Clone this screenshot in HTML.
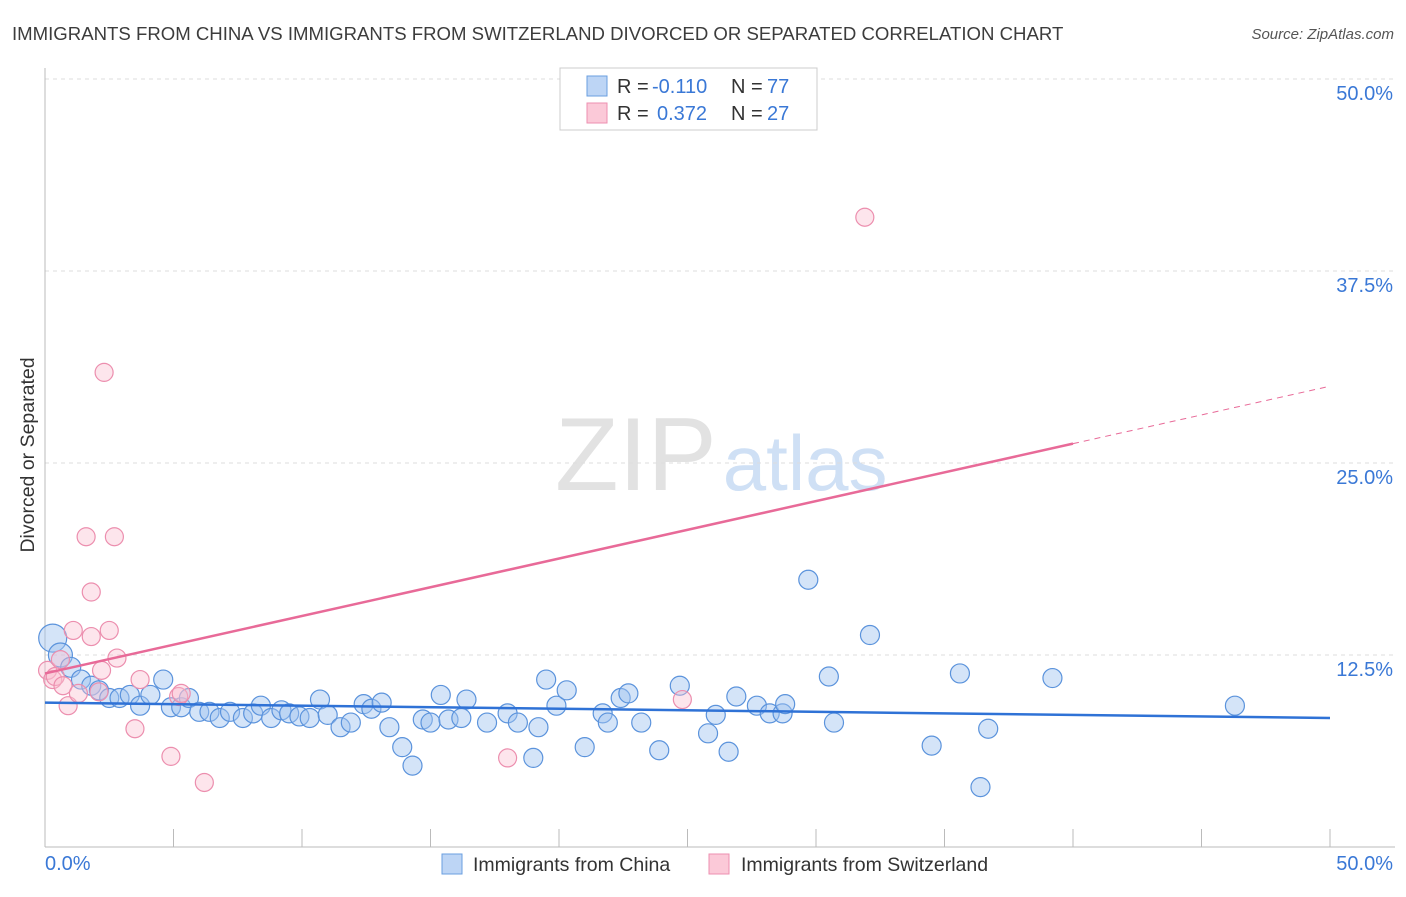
<!DOCTYPE html>
<html><head><meta charset="utf-8"><style>
body{margin:0;background:#fff;font-family:"Liberation Sans",sans-serif;}
svg text{font-family:"Liberation Sans",sans-serif;}
</style></head><body>
<svg id="chart" width="1406" height="892" xmlns="http://www.w3.org/2000/svg">
<text x="12" y="40" font-size="18.6" fill="#3c3c3c">IMMIGRANTS FROM CHINA VS IMMIGRANTS FROM SWITZERLAND DIVORCED OR SEPARATED CORRELATION CHART</text>
<text x="1394" y="39" font-size="15" fill="#555" text-anchor="end" font-style="italic">Source: ZipAtlas.com</text>
<text x="555" y="490" font-size="104" fill="#e2e2e2" font-family="Liberation Serif">ZIP<tspan fill="#cfe0f5" font-family="Liberation Sans" font-size="78" dx="6">atlas</tspan></text>
<text transform="translate(34,455) rotate(-90)" font-size="19.5" fill="#333" text-anchor="middle">Divorced or Separated</text>
<g id="grid"></g><g id="axes"></g><g id="pts"></g><g id="lines"></g>
<g>
<rect x="560" y="68" width="257" height="62" fill="#fff" stroke="#ccc"/>
<rect x="587" y="76" width="20" height="20" fill="#bdd5f5" stroke="#6a9fe0"/>
<rect x="587" y="103" width="20" height="20" fill="#fbc9d8" stroke="#ee8fb0"/>
<text x="617" y="93" font-size="20" fill="#333">R =</text>
<text x="652" y="93" font-size="20" fill="#3a78d6">-0.110</text>
<text x="731" y="93" font-size="20" fill="#333">N =</text>
<text x="767" y="93" font-size="20" fill="#3a78d6">77</text>
<text x="617" y="120" font-size="20" fill="#333">R =</text>
<text x="657" y="120" font-size="20" fill="#3a78d6">0.372</text>
<text x="731" y="120" font-size="20" fill="#333">N =</text>
<text x="767" y="120" font-size="20" fill="#3a78d6">27</text>
</g>
<g>
<rect x="442" y="854" width="20" height="20" fill="#bdd5f5" stroke="#6a9fe0"/>
<text x="473" y="871" font-size="19.5" fill="#333">Immigrants from China</text>
<rect x="709" y="854" width="20" height="20" fill="#fbc9d8" stroke="#ee8fb0"/>
<text x="741" y="871" font-size="19.5" fill="#333">Immigrants from Switzerland</text>
</g>
</svg>
<script>
const yTicks=[12.5,25,37.5,50];
const yTickLabels=["12.5%","25.0%","37.5%","50.0%"];
const xTickVals=[0,5,10,15,20,25,30,35,40,45,50];
const chinaX=[0.3,0.6,1.0,1.4,1.8,2.1,2.5,2.9,3.3,3.7,4.1,4.6,4.9,5.3,5.6,6.0,6.4,6.8,7.2,7.7,8.1,8.4,8.8,9.2,9.5,9.9,10.3,10.7,11.0,11.5,11.9,12.4,12.7,13.1,13.4,13.9,14.3,14.7,15.0,15.4,15.7,16.2,16.4,17.2,18.0,18.4,19.0,19.2,19.5,19.9,20.3,21.0,21.7,21.9,22.4,22.7,23.2,23.9,24.7,25.8,26.1,26.6,26.9,27.7,28.2,28.7,28.8,29.7,30.5,30.7,32.1,34.5,35.6,36.4,36.7,39.2,46.3];
const chinaY=[13.6,12.5,11.7,10.9,10.5,10.2,9.7,9.7,9.9,9.2,9.9,10.9,9.1,9.1,9.7,8.8,8.8,8.4,8.8,8.4,8.7,9.2,8.4,8.9,8.7,8.5,8.4,9.6,8.6,7.8,8.1,9.3,9.0,9.4,7.8,6.5,5.3,8.3,8.1,9.9,8.3,8.4,9.6,8.1,8.7,8.1,5.8,7.8,10.9,9.2,10.2,6.5,8.7,8.1,9.7,10.0,8.1,6.3,10.5,7.4,8.6,6.2,9.8,9.2,8.7,8.7,9.3,17.4,11.1,8.1,13.8,6.6,11.3,3.9,7.7,11.0,9.2];
const swissX=[0.1,0.3,0.4,0.6,0.7,0.9,1.1,1.3,1.6,1.8,1.8,2.1,2.2,2.3,2.5,2.7,2.8,3.5,3.7,4.9,5.2,5.3,6.2,18.0,24.8,31.9];
const swissY=[11.5,10.9,11.1,12.2,10.5,9.2,14.1,10.0,20.2,16.6,13.7,10.1,11.5,30.9,14.1,20.2,12.3,7.7,10.9,5.9,9.8,10.0,4.2,5.8,9.6,41.0];
const chinaTrend=[9.4,8.4];
const swissTrend=[11.3,30.0];
const NS="http://www.w3.org/2000/svg";
const X=v=>45+v/50*1285, Y=v=>847-v/50*768;
function mk(tag,attrs,parent){const e=document.createElementNS(NS,tag);for(const k in attrs)e.setAttribute(k,attrs[k]);document.getElementById(parent).appendChild(e);return e;}
yTicks.forEach((t,i)=>{
 const g=mk('line',{x1:45,x2:1395,y1:Y(t),y2:Y(t),stroke:'#ddd','stroke-dasharray':'4,4'},'grid');
 
 
 const l=mk('text',{x:1393,y:Y(t)+21,'font-size':20,fill:'#3a78d6','text-anchor':'end'},'grid');
 l.textContent=yTickLabels[i];
 
 
});
const ax=mk('line',{x1:45,x2:1395,y1:847,y2:847,stroke:'#bbb'},'axes');


const ay=mk('line',{x1:45,x2:45,y1:68,y2:847,stroke:'#bbb'},'axes');


xTickVals.forEach(t=>{const e=mk('line',{x1:X(t),x2:X(t),y1:829,y2:847,stroke:'#bbb'},'axes');
 
 });
const xl0=mk('text',{x:45,y:870,'font-size':20,fill:'#3a78d6'},'axes');xl0.textContent='0.0%';


const xl1=mk('text',{x:1393,y:870,'font-size':20,fill:'#3a78d6','text-anchor':'end'},'axes');xl1.textContent='50.0%';


chinaX.forEach((x,i)=>{const r=i==0?14:(i==1?12:(i==2?10:9.5));
 const c=mk('circle',{cx:X(x),cy:Y(chinaY[i]),r:r,fill:'rgba(160,195,240,0.45)',stroke:'#5b93dc','stroke-width':1.2},'pts');
 
 });
swissX.forEach((x,i)=>{
 const c=mk('circle',{cx:X(x),cy:Y(swissY[i]),r:9,fill:'rgba(250,190,208,0.4)',stroke:'#ec8eae','stroke-width':1.2},'pts');
 
 });
const bl=mk('line',{x1:X(0),x2:X(50),y1:Y(chinaTrend[0]),y2:Y(chinaTrend[1]),stroke:'#2f72d6','stroke-width':2.5},'lines');


const sAt=v=>swissTrend[0]+(swissTrend[1]-swissTrend[0])*v/50;
const pl=mk('line',{x1:X(0),x2:X(40),y1:Y(sAt(0)),y2:Y(sAt(40)),stroke:'#e86a98','stroke-width':2.5},'lines');


const pd=mk('line',{x1:X(40),x2:X(50),y1:Y(sAt(40)),y2:Y(sAt(50)),stroke:'#e86a98','stroke-width':1,'stroke-dasharray':'6,5'},'lines');


</script>
</body></html>
